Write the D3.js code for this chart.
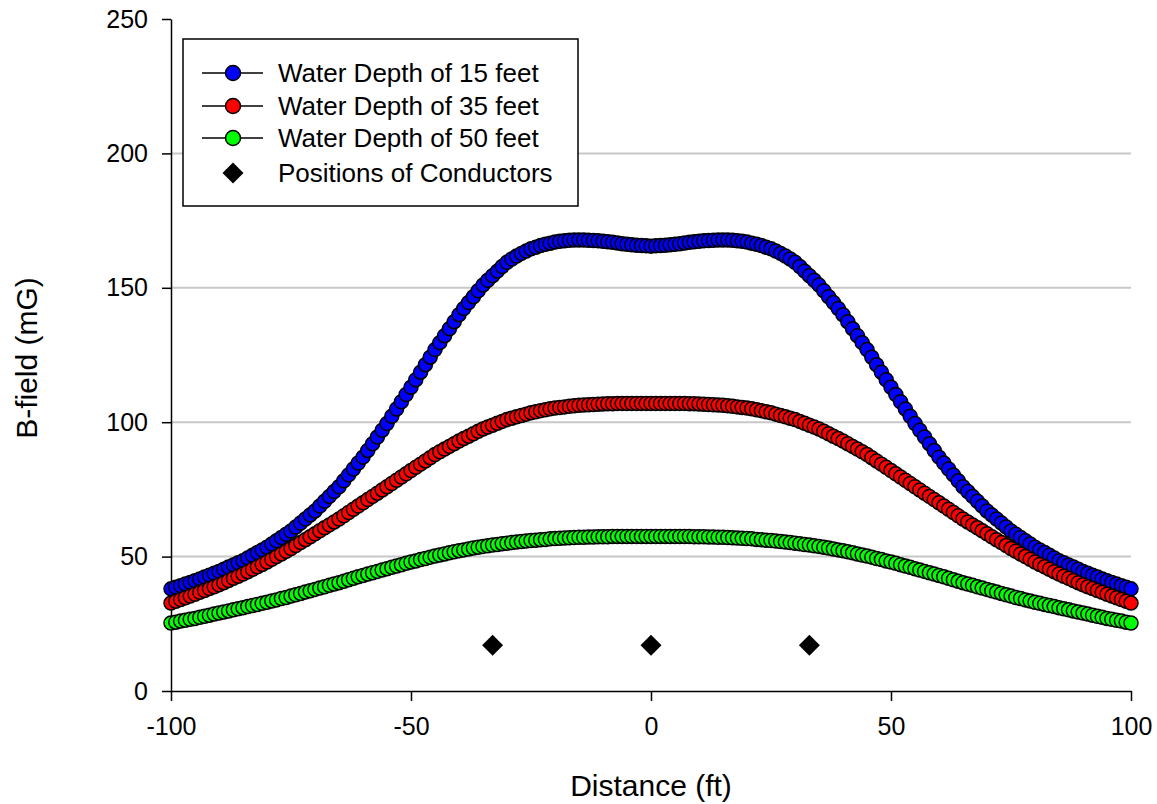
<!DOCTYPE html>
<html>
<head>
<meta charset="utf-8">
<script src="https://cdn.jsdelivr.net/npm/d3@7"></script>
<style>
  body { margin: 0; background: #fff; }
  svg { font-family: "Liberation Sans", Arial, sans-serif; }
</style>
</head>
<body>
<div id="plot"></div>
<script>
// SVG area
var svgWidth = 1157;
var svgHeight = 804;

// plot area margins (pixel box of the axes)
var chartMargin = { top: 19, right: 26, bottom: 113, left: 171 };
var chartWidth = svgWidth - chartMargin.left - chartMargin.right;
var chartHeight = svgHeight - chartMargin.top - chartMargin.bottom;

// Data: distance in ft, one sample per foot
var distance = d3.range(-100, 101, 1);

var depth15 = [
  38.0, 38.6, 39.2, 39.8, 40.4, 41.0, 41.7, 42.4, 43.1, 43.8, 44.5,
  45.3, 46.1, 46.9, 47.7, 48.5, 49.5, 50.5, 51.5, 52.5, 53.5,
  54.7, 55.9, 57.1, 58.3, 59.5, 61.0, 62.5, 64.0, 65.5, 67.0,
  68.8, 70.6, 72.4, 74.2, 76.0, 78.2, 80.4, 82.6, 84.8, 87.0,
  89.5, 92.0, 94.5, 97.0, 99.5, 102.2, 104.9, 107.6, 110.3, 113.0,
  115.8, 118.6, 121.4, 124.2, 127.0, 129.6, 132.2, 134.8, 137.4, 140.0,
  142.3, 144.5, 146.7, 148.9, 151.0, 152.8, 154.5, 156.2, 157.9, 159.5,
  160.7, 161.8, 162.8, 163.7, 164.5, 165.1, 165.7, 166.2, 166.6, 167.0,
  167.3, 167.5, 167.7, 167.8, 167.8, 167.8, 167.7, 167.6, 167.5, 167.3,
  167.1, 166.9, 166.7, 166.4, 166.2, 166.0, 165.8, 165.7, 165.6, 165.5,
  165.6, 165.7, 165.8, 166.0, 166.2, 166.4, 166.7, 166.9, 167.1, 167.3,
  167.5, 167.6, 167.7, 167.8, 167.8, 167.8, 167.7, 167.5, 167.3, 167.0,
  166.6, 166.2, 165.7, 165.1, 164.5, 163.7, 162.8, 161.8, 160.7, 159.5,
  157.9, 156.2, 154.5, 152.8, 151.0, 148.9, 146.7, 144.5, 142.3, 140.0,
  137.4, 134.8, 132.2, 129.6, 127.0, 124.2, 121.4, 118.6, 115.8, 113.0,
  110.3, 107.6, 104.9, 102.2, 99.5, 97.0, 94.5, 92.0, 89.5, 87.0,
  84.8, 82.6, 80.4, 78.2, 76.0, 74.2, 72.4, 70.6, 68.8, 67.0,
  65.5, 64.0, 62.5, 61.0, 59.5, 58.3, 57.1, 55.9, 54.7, 53.5,
  52.5, 51.5, 50.5, 49.5, 48.5, 47.7, 46.9, 46.1, 45.3, 44.5,
  43.8, 43.1, 42.4, 41.7, 41.0, 40.4, 39.8, 39.2, 38.6, 38.0
];

var depth35 = [
  32.7, 33.4, 34.0, 34.7, 35.3, 36.0, 36.7, 37.4, 38.1, 38.8, 39.5,
  40.3, 41.1, 41.9, 42.7, 43.5, 44.4, 45.3, 46.2, 47.1, 48.0,
  49.0, 50.0, 51.0, 52.0, 53.0, 54.1, 55.2, 56.3, 57.4, 58.5,
  59.6, 60.7, 61.8, 62.9, 64.0, 65.2, 66.4, 67.6, 68.8, 70.0,
  71.2, 72.4, 73.6, 74.8, 76.0, 77.2, 78.4, 79.6, 80.8, 82.0,
  83.2, 84.4, 85.6, 86.8, 88.0, 89.0, 90.0, 91.0, 92.0, 93.0,
  93.9, 94.8, 95.7, 96.6, 97.5, 98.2, 98.9, 99.6, 100.3, 101.0,
  101.5, 102.0, 102.5, 103.0, 103.5, 103.9, 104.3, 104.6, 105.0, 105.3,
  105.5, 105.7, 105.9, 106.1, 106.3, 106.4, 106.5, 106.6, 106.7, 106.8,
  106.9, 106.9, 107.0, 107.0, 107.0, 107.0, 107.0, 107.0, 107.0, 107.0,
  107.0, 107.0, 107.0, 107.0, 107.0, 107.0, 107.0, 106.9, 106.9, 106.8,
  106.7, 106.6, 106.5, 106.4, 106.3, 106.1, 105.9, 105.7, 105.5, 105.3,
  105.0, 104.6, 104.3, 103.9, 103.5, 103.0, 102.5, 102.0, 101.5, 101.0,
  100.3, 99.6, 98.9, 98.2, 97.5, 96.6, 95.7, 94.8, 93.9, 93.0,
  92.0, 91.0, 90.0, 89.0, 88.0, 86.8, 85.6, 84.4, 83.2, 82.0,
  80.8, 79.6, 78.4, 77.2, 76.0, 74.8, 73.6, 72.4, 71.2, 70.0,
  68.8, 67.6, 66.4, 65.2, 64.0, 62.9, 61.8, 60.7, 59.6, 58.5,
  57.4, 56.3, 55.2, 54.1, 53.0, 52.0, 51.0, 50.0, 49.0, 48.0,
  47.1, 46.2, 45.3, 44.4, 43.5, 42.7, 41.9, 41.1, 40.3, 39.5,
  38.8, 38.1, 37.4, 36.7, 36.0, 35.3, 34.7, 34.0, 33.4, 32.7
];

var depth50 = [
  25.3, 25.6, 26.0, 26.3, 26.7, 27.0, 27.4, 27.8, 28.2, 28.6, 29.0,
  29.4, 29.8, 30.2, 30.6, 31.0, 31.4, 31.8, 32.2, 32.6, 33.0,
  33.5, 33.9, 34.4, 34.8, 35.3, 35.8, 36.3, 36.8, 37.3, 37.8,
  38.3, 38.8, 39.3, 39.8, 40.3, 40.8, 41.4, 41.9, 42.5, 43.0,
  43.5, 44.0, 44.5, 45.0, 45.5, 46.0, 46.5, 47.0, 47.5, 48.0,
  48.4, 48.9, 49.3, 49.8, 50.2, 50.6, 51.0, 51.4, 51.8, 52.2,
  52.5, 52.8, 53.2, 53.5, 53.8, 54.0, 54.3, 54.5, 54.8, 55.0,
  55.2, 55.4, 55.6, 55.8, 56.0, 56.1, 56.3, 56.4, 56.6, 56.7,
  56.8, 56.9, 57.0, 57.1, 57.2, 57.2, 57.3, 57.3, 57.4, 57.4,
  57.4, 57.5, 57.5, 57.5, 57.5, 57.5, 57.5, 57.5, 57.5, 57.5,
  57.5, 57.5, 57.5, 57.5, 57.5, 57.5, 57.5, 57.5, 57.4, 57.4,
  57.4, 57.3, 57.3, 57.2, 57.2, 57.1, 57.0, 56.9, 56.8, 56.7,
  56.6, 56.4, 56.3, 56.1, 56.0, 55.8, 55.6, 55.4, 55.2, 55.0,
  54.8, 54.5, 54.3, 54.0, 53.8, 53.5, 53.2, 52.8, 52.5, 52.2,
  51.8, 51.4, 51.0, 50.6, 50.2, 49.8, 49.3, 48.9, 48.4, 48.0,
  47.5, 47.0, 46.5, 46.0, 45.5, 45.0, 44.5, 44.0, 43.5, 43.0,
  42.5, 41.9, 41.4, 40.8, 40.3, 39.8, 39.3, 38.8, 38.3, 37.8,
  37.3, 36.8, 36.3, 35.8, 35.3, 34.8, 34.4, 33.9, 33.5, 33.0,
  32.6, 32.2, 31.8, 31.4, 31.0, 30.6, 30.2, 29.8, 29.4, 29.0,
  28.6, 28.2, 27.8, 27.4, 27.0, 26.7, 26.3, 26.0, 25.6, 25.3
];

// Conductor positions (ft) and the level they are plotted at
var conductorX = [-33, 0, 33];
var conductorY = [17, 17, 17];

// Tick values
var xTicks = [-100, -50, 0, 50, 100];
var yTicks = [0, 50, 100, 150, 200, 250];
var gridTicks = [50, 100, 150, 200];

// Series definitions
var seriesNames = ["Water Depth of 15 feet", "Water Depth of 35 feet", "Water Depth of 50 feet"];
var seriesValues = [depth15, depth35, depth50];
var seriesColors = ["#0000ff", "#ff0000", "#00ff00"];

var svg = d3.select("#plot")
    .append("svg")
    .attr("width", svgWidth)
    .attr("height", svgHeight);

var chartGroup = svg.append("g")
    .attr("transform", `translate(${chartMargin.left}, ${chartMargin.top})`);

// Scales
var xScale = d3.scaleLinear().domain([-100, 100]).range([0, chartWidth]);
var yScale = d3.scaleLinear().domain([0, 250]).range([chartHeight, 0]);

// Gridlines
chartGroup.selectAll(".grid")
    .data(gridTicks)
    .enter()
    .append("line")
    .attr("class", "grid")
    .attr("x1", 0)
    .attr("x2", chartWidth)
    .attr("y1", d => yScale(d))
    .attr("y2", d => yScale(d))
    .attr("stroke", "#c8c8c8")
    .attr("stroke-width", 2);

// Axes (plain hyphen minus in labels, like the original)
var bottomAxis = d3.axisBottom(xScale).tickValues(xTicks).tickFormat(d => String(d))
    .tickSize(10).tickSizeOuter(0).tickPadding(16);
var leftAxis = d3.axisLeft(yScale).tickValues(yTicks).tickFormat(d => String(d))
    .tickSize(9).tickSizeOuter(0).tickPadding(14);

var xAxisG = chartGroup.append("g")
    .attr("transform", `translate(0, ${chartHeight})`)
    .call(bottomAxis);

var yAxisG = chartGroup.append("g")
    .call(leftAxis);

[xAxisG, yAxisG].forEach(function (g) {
    g.selectAll("path").attr("stroke", "#000").attr("stroke-width", 1.5);
    g.selectAll("line").attr("stroke", "#000").attr("stroke-width", 1.5);
    g.selectAll("text")
        .attr("font-size", 25)
        .attr("font-family", "Liberation Sans, Arial, sans-serif")
        .attr("fill", "#000");
});

// Series: connecting line underneath, then markers left to right
var line = d3.line()
    .x((d, i) => xScale(distance[i]))
    .y(d => yScale(d));

seriesValues.forEach(function (vals, s) {
    chartGroup.append("path")
        .datum(vals)
        .attr("d", line)
        .attr("fill", "none")
        .attr("stroke", "#000")
        .attr("stroke-width", 1.5);

    chartGroup.selectAll(".pt" + s)
        .data(vals)
        .enter()
        .append("circle")
        .attr("class", "pt" + s)
        .attr("cx", (d, i) => xScale(distance[i]))
        .attr("cy", d => yScale(d))
        .attr("r", 7)
        .attr("fill", seriesColors[s])
        .attr("stroke", "#000")
        .attr("stroke-width", 1.5);
});

// Conductor diamonds
var diamond = d3.symbol().type(d3.symbolSquare).size(220);
chartGroup.selectAll(".cond")
    .data(conductorX)
    .enter()
    .append("path")
    .attr("class", "cond")
    .attr("d", diamond)
    .attr("transform", (d, i) => `translate(${xScale(d)}, ${yScale(conductorY[i])}) rotate(45)`)
    .attr("fill", "#000");

// Axis titles
svg.append("text")
    .attr("x", chartMargin.left + xScale(0))
    .attr("y", 796)
    .attr("text-anchor", "middle")
    .attr("font-size", 30)
    .text("Distance (ft)");

svg.append("text")
    .attr("transform", "translate(37, 358) rotate(-90)")
    .attr("text-anchor", "middle")
    .attr("font-size", 30)
    .text("B-field (mG)");

// Legend
var legend = svg.append("g").attr("transform", "translate(183, 39)");

legend.append("rect")
    .attr("width", 395)
    .attr("height", 167)
    .attr("fill", "#fff")
    .attr("stroke", "#000")
    .attr("stroke-width", 1.5);

var rowY = [34, 67, 99, 134];

seriesNames.forEach(function (name, s) {
    var row = legend.append("g").attr("transform", `translate(0, ${rowY[s]})`);
    row.append("line")
        .attr("x1", 19).attr("x2", 80)
        .attr("y1", 0).attr("y2", 0)
        .attr("stroke", "#000")
        .attr("stroke-width", 1.5);
    row.append("circle")
        .attr("cx", 50).attr("cy", 0).attr("r", 7.5)
        .attr("fill", seriesColors[s])
        .attr("stroke", "#000")
        .attr("stroke-width", 1.5);
    row.append("text")
        .attr("x", 95).attr("y", 9)
        .attr("font-size", 26)
        .text(name);
});

var condRow = legend.append("g").attr("transform", `translate(0, ${rowY[3]})`);
condRow.append("path")
    .attr("d", diamond)
    .attr("transform", "translate(50, 0) rotate(45)")
    .attr("fill", "#000");
condRow.append("text")
    .attr("x", 95).attr("y", 9)
    .attr("font-size", 26)
    .text("Positions of Conductors");
</script>
</body>
</html>
